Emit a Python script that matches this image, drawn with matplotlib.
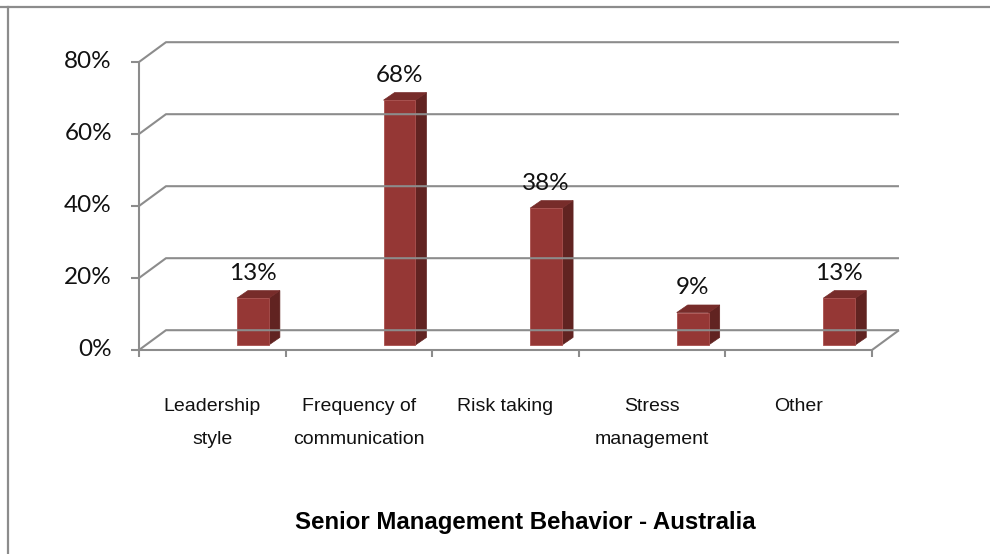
import matplotlib
matplotlib.use('Agg')
import matplotlib.pyplot as plt
from matplotlib.patches import Polygon
from matplotlib.lines import Line2D

CATEGORIES = ['Leadership\nstyle', 'Frequency of\ncommunication', 'Risk taking',
              'Stress\nmanagement', 'Other']
VALUES = [13, 68, 38, 9, 13]
Y_TICKS = [0, 20, 40, 60, 80]
TITLE = 'Senior Management Behavior - Australia'

# 3-D look: oblique depth offset of the back wall, in data units
DX, DY = 0.184, 5.5
# bar geometry inside each category slot
BAR_LEFT, BAR_W, BAR_LIFT = 0.668, 0.218, 1.4
SIDE_DX, SIDE_DY = 0.075, 2.1

C_FRONT = '#953735'
C_SIDE = '#612321'
C_TOP = '#772c2a'
C_GRID = '#8c8c8c'

NUM_FONT = ['Lato', 'DejaVu Sans']
TXT_FONT = ['Liberation Sans', 'DejaVu Sans']

fig = plt.figure(figsize=(9.9, 5.54), dpi=100)
W, H = 990, 554
ax = fig.add_axes([139 / W, (H - 350) / H, 733 / W, 288 / H])
ax.set_xlim(0, len(VALUES))
ax.set_ylim(0, Y_TICKS[-1])
ax.axis('off')

n = len(VALUES)
lkw = dict(color=C_GRID, lw=1.5, clip_on=False, solid_capstyle='butt')

# back wall gridlines with the short diagonal to the front axis
for v in Y_TICKS:
    ax.plot([0, DX, n + DX], [v, v + DY, v + DY], **lkw)
    ax.plot([-0.055, 0], [v, v], **lkw)
    ax.annotate(f'{v}%', xy=(0, v), xytext=(-19.5, 0), textcoords='offset points',
                ha='right', va='center', fontsize=17.5, family=NUM_FONT,
                color='#111111', annotation_clip=False)

# front value axis and floor outline
ax.plot([0, 0], [0, Y_TICKS[-1]], **lkw)
ax.plot([0, n, n + DX], [0, 0, DY], **lkw)
for i in range(n + 1):
    ax.plot([i, i], [0, -1.9], **lkw)

# 3-D columns: side, top, front
for i, v in enumerate(VALUES):
    x0 = i + BAR_LEFT
    x1 = x0 + BAR_W
    y0 = BAR_LIFT
    y1 = BAR_LIFT + v
    side = [(x1, y0), (x1 + SIDE_DX, y0 + SIDE_DY),
            (x1 + SIDE_DX, y1 + SIDE_DY), (x1, y1)]
    top = [(x0, y1), (x0 + SIDE_DX, y1 + SIDE_DY),
           (x1 + SIDE_DX, y1 + SIDE_DY), (x1, y1)]
    front = [(x0, y0), (x1, y0), (x1, y1), (x0, y1)]
    ax.add_patch(Polygon(side, closed=True, fc=C_SIDE, ec=C_SIDE, lw=0.5, clip_on=False))
    ax.add_patch(Polygon(top, closed=True, fc=C_TOP, ec=C_TOP, lw=0.5, clip_on=False))
    ax.add_patch(Polygon(front, closed=True, fc=C_FRONT, ec='#a9504e', lw=0.6, clip_on=False))
    ax.annotate(f'{v}%', xy=((x0 + x1) / 2, y1), xytext=(0, 18), textcoords='offset points',
                ha='center', va='center', fontsize=17.5, family=NUM_FONT,
                color='#111111', annotation_clip=False)

# category labels, one line at a time for the wide line spacing
for i, lab in enumerate(CATEGORIES):
    for j, line in enumerate(lab.split('\n')):
        ax.annotate(line, xy=(i + 0.5, 0), xytext=(0, -40.5 - 24 * j),
                    textcoords='offset points', ha='center', va='center',
                    fontsize=14, family=TXT_FONT, color='#111111',
                    annotation_clip=False)

fig.text(525 / W, (H - 523) / H, TITLE, ha='center', va='center',
         fontsize=17.3, fontweight='bold', family=TXT_FONT, color='#000000')

# chart area frame (top and left edges)
fig.add_artist(Line2D([0, 1], [(H - 7) / H] * 2, color=C_GRID, lw=1.6))
fig.add_artist(Line2D([8 / W] * 2, [0, (H - 7) / H], color=C_GRID, lw=1.6))

fig.savefig('out.png', dpi=100, facecolor='white')
